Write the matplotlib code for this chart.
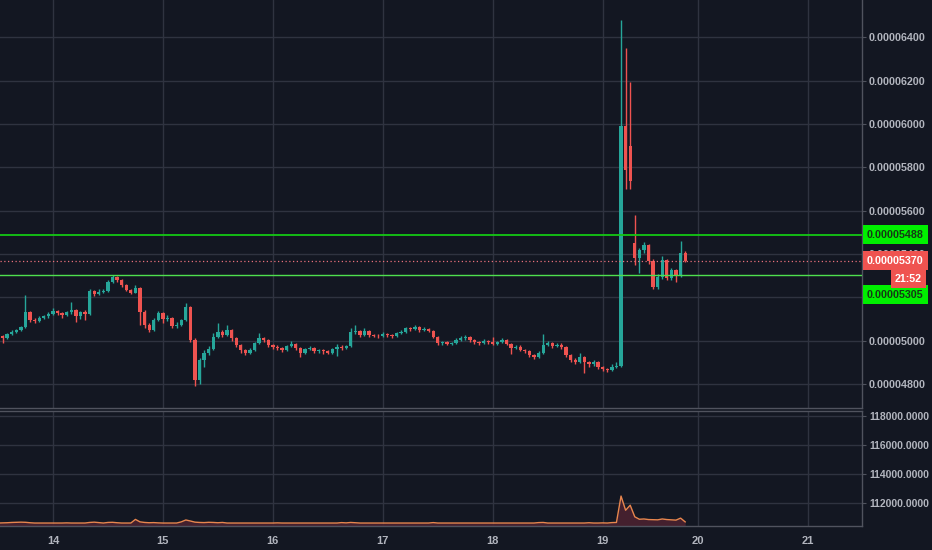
import matplotlib.pyplot as plt
from matplotlib.ticker import FuncFormatter

# hourly candles, prices in satoshi (1e-8)
closes = [5020, 5012, 5030, 5040, 5050, 5062, 5130, 5095, 5090, 5105,
          5112, 5125, 5135, 5128, 5120, 5130, 5140, 5115, 5130, 5122,
          5230, 5215, 5225, 5230, 5270, 5295, 5280, 5255, 5235, 5222,
          5245, 5132, 5070, 5049, 5095, 5127, 5100, 5105, 5067, 5072,
          5095, 5155, 5003, 4818, 4910, 4943, 4960, 5017, 5040, 5026,
          5049, 5010, 4980, 4956, 4943, 4956, 4989, 5012, 5003, 4980,
          4970, 4966, 4956, 4975, 4985, 4966, 4943, 4960, 4966, 4950,
          4956, 4950, 4945, 4960, 4970, 4966, 4975, 5040, 5045, 5026,
          5045, 5026, 5022, 5020, 5030, 5025, 5020, 5035, 5040, 5058,
          5054, 5063, 5049, 5054, 5045, 5017, 4989, 4993, 4985, 4989,
          5003, 5012, 5017, 5003, 4993, 4989, 5000, 4993, 4985, 4993,
          5003, 4985, 4966, 4972, 4957, 4950, 4933, 4925, 4945, 4980,
          4989, 4975, 4980, 4970, 4933, 4910, 4900, 4925, 4900, 4890,
          4900, 4878, 4868, 4865, 4880, 4885, 5990, 5790, 5735, 5380,
          5420, 5440, 5370, 5248, 5294, 5372, 5289, 5326, 5300, 5405,
          5370]
highs = [5030, 5025, 5035, 5048, 5055, 5068, 5210, 5135, 5105, 5112,
         5120, 5130, 5150, 5140, 5132, 5138, 5178, 5145, 5135, 5140,
         5240, 5235, 5240, 5238, 5278, 5305, 5300, 5285, 5260, 5240,
         5255, 5250, 5140, 5080, 5105, 5135, 5130, 5120, 5110, 5085,
         5100, 5174, 5160, 5010, 4920, 4955, 4975, 5035, 5081, 5050,
         5070, 5055, 5015, 4985, 4960, 4965, 4995, 5035, 5018, 5008,
         4985, 4978, 4972, 4982, 5000, 4990, 4970, 4965, 4975, 4970,
         4962, 4960, 4955, 4968, 4985, 4978, 4982, 5060, 5072, 5050,
         5060, 5050, 5032, 5030, 5038, 5035, 5030, 5042, 5048, 5065,
         5065, 5070, 5068, 5062, 5060, 5050, 5020, 5000, 4998, 4996,
         5010, 5020, 5028, 5022, 5008, 5000, 5006, 5005, 5015, 5000,
         5010, 5008, 4990, 4980, 4978, 4962, 4955, 4940, 4952, 5030,
         4998, 4995, 4990, 4988, 4975, 4940, 4918, 4945, 4930, 4908,
         4910, 4905, 4885, 4875, 4890, 4900, 6480, 6350, 6195, 5580,
         5430, 5455, 5445, 5378, 5310, 5390, 5378, 5335, 5332, 5460,
         5415]
lows = [5010, 4990, 5008, 5025, 5035, 5045, 5058, 5085, 5080, 5085,
        5100, 5105, 5120, 5118, 5105, 5115, 5125, 5085, 5100, 5095,
        5118, 5205, 5210, 5218, 5225, 5265, 5272, 5248, 5228, 5215,
        5218, 5072, 5060, 5040, 5045, 5090, 5080, 5090, 5060, 5060,
        5068, 5090, 4995, 4790, 4800, 4880, 4935, 4955, 5010, 5015,
        5020, 5000, 4970, 4945, 4935, 4938, 4950, 4985, 4995, 4972,
        4962, 4958, 4948, 4950, 4970, 4958, 4925, 4938, 4955, 4945,
        4945, 4940, 4938, 4940, 4930, 4958, 4960, 4970, 5032, 5018,
        5020, 5018, 5015, 5012, 5015, 5018, 5012, 5015, 5030, 5035,
        5045, 5048, 5042, 5044, 5038, 5010, 4980, 4982, 4978, 4980,
        4985, 4998, 5005, 4995, 4985, 4980, 4984, 4985, 4978, 4980,
        4988, 4978, 4940, 4960, 4950, 4942, 4925, 4915, 4920, 4940,
        4975, 4968, 4970, 4962, 4925, 4900, 4890, 4895, 4850, 4880,
        4882, 4870, 4858, 4855, 4860, 4872, 4880, 5700, 5700, 5350,
        5312, 5405, 5355, 5238, 5240, 5285, 5280, 5282, 5272, 5295,
        5362]
# bars that opened away from the previous close
gap_opens = {138: 5900, 139: 5450}

# lower pane indicator
volume = [110620, 110630, 110640, 110660, 110670, 110680, 110670, 110640, 110620, 110620,
          110620, 110620, 110620, 110620, 110620, 110630, 110620, 110620, 110620, 110620,
          110660, 110680, 110650, 110620, 110660, 110670, 110640, 110620, 110620, 110620,
          110870, 110700, 110660, 110640, 110650, 110630, 110620, 110620, 110620, 110620,
          110700, 110830, 110760, 110680, 110660, 110650, 110670, 110660, 110640, 110660,
          110620, 110620, 110620, 110620, 110620, 110620, 110620, 110620, 110620, 110620,
          110620, 110630, 110620, 110620, 110620, 110620, 110620, 110620, 110620, 110620,
          110620, 110620, 110620, 110620, 110620, 110650, 110630, 110660, 110640, 110620,
          110620, 110620, 110620, 110620, 110620, 110620, 110620, 110620, 110620, 110620,
          110620, 110620, 110620, 110620, 110620, 110650, 110620, 110620, 110620, 110620,
          110620, 110620, 110620, 110620, 110620, 110620, 110620, 110620, 110620, 110620,
          110620, 110620, 110620, 110620, 110620, 110620, 110620, 110620, 110650, 110660,
          110620, 110620, 110620, 110620, 110620, 110620, 110620, 110620, 110620, 110640,
          110620, 110620, 110630, 110620, 110650, 110660, 112480, 111500, 111850, 111050,
          110880, 110900, 110860, 110850, 110840, 110900, 110860, 110840, 110820, 110960,
          110700]

day_ticks = [12, 36, 60, 84, 108, 132, 152.8, 176.8]
day_labels = ['14', '15', '16', '17', '18', '19', '20', '21']
price_ticks = [4800, 5000, 5200, 5400, 5600, 5800, 6000, 6200, 6400]
hidden_ticks = [5200]   # covered by the 5305 marker on the scale
vol_ticks = [112000, 114000, 116000, 118000]
level_hi = 5488
level_lo = 5305
countdown = '21:52'

BG = '#131722'
GRID = '#2f3340'
EDGE = '#50535e'
TXT = '#b2b5be'
UP = '#26a69a'
DOWN = '#ef5350'
FONT = 'Liberation Sans'

sat = 1e-8
n = len(closes)
xs = list(range(n))
opens = [closes[0]] + closes[:-1]
for i, o in gap_opens.items():
    opens[i] = o

fig = plt.figure(figsize=(9.32, 5.5), dpi=100, facecolor=BG)
ax = fig.add_axes([0, 0.2582, 0.9249, 0.7418], facecolor=BG)
ax2 = fig.add_axes([0, 0.0436, 0.9249, 0.2091], facecolor=BG, sharex=ax)

# candles
cols = [UP if c >= o else DOWN for o, c in zip(opens, closes)]
ax.vlines(xs, [l * sat for l in lows], [h * sat for h in highs], colors=cols, lw=1.0, zorder=3)
bottoms = [min(o, c) * sat for o, c in zip(opens, closes)]
heights = [max(abs(c - o), 2) * sat for o, c in zip(opens, closes)]
ax.bar(xs, heights, bottom=bottoms, width=0.72, color=cols, linewidth=0, zorder=4)

# horizontal levels
ax.axhline(level_hi * sat, color='#14c814', lw=1.3, zorder=5)
ax.axhline(level_lo * sat, color='#4ee04e', lw=1.0, zorder=5)
last = closes[-1]
ax.axhline(last * sat, color='#e8707a', lw=0.9, ls=(0, (1, 2)), zorder=5)

ax.set_xlim(0.44, 188.6)
ax.set_ylim(4689 * sat, 6573 * sat)
ax.set_yticks([p * sat for p in price_ticks])
ax.yaxis.set_major_formatter(
    FuncFormatter(lambda v, pos: '' if round(v / sat) in hidden_ticks else f'{v:.8f}'))
ax.yaxis.tick_right()
ax.set_xticks(day_ticks)
ax.tick_params(axis='x', length=0, labelbottom=False)
ax.tick_params(axis='y', colors=EDGE, labelcolor=TXT, labelsize=7.7, length=3, pad=2)
for t in ax.get_yticklabels():
    t.set_fontfamily(FONT)
    t.set_fontweight('bold')
ax.grid(True, color=GRID, lw=1)
ax.set_axisbelow(True)
for s in ['top', 'left']:
    ax.spines[s].set_visible(False)
for s in ['right', 'bottom']:
    ax.spines[s].set_color(EDGE)
    ax.spines[s].set_linewidth(1)

# price labels on the scale
def scale_label(price, text, fc, tc, dy=0, dx=5, ha='left'):
    ax.annotate(text, xy=(1, price * sat), xycoords=('axes fraction', 'data'),
                xytext=(dx, dy), textcoords='offset pixels', ha=ha, va='center',
                fontsize=7.7, fontweight='bold', family=FONT, color=tc, zorder=10,
                annotation_clip=False,
                bbox=dict(boxstyle='square,pad=0.42', fc=fc, ec='none'))

scale_label(level_hi, f'{level_hi * sat:.8f}', '#00f000', '#163816')
scale_label(level_lo, f'{level_lo * sat:.8f}', '#00f000', '#163816', dy=-20)
scale_label(last, f'{last * sat:.8f}', DOWN, 'white')
scale_label(last, countdown, DOWN, 'white', dy=-18, dx=60, ha='right')

# lower pane
ax2.fill_between(xs, volume, 110414, color='#4a2230', alpha=0.9, lw=0, zorder=2)
ax2.plot(xs, volume, color='#e8864e', lw=1.0, zorder=3)
ax2.set_ylim(110414, 118345)
ax2.set_yticks(vol_ticks)
ax2.yaxis.set_major_formatter(FuncFormatter(lambda v, pos: f'{v:.4f}'))
ax2.yaxis.tick_right()
ax2.set_xticks(day_ticks)
ax2.set_xticklabels(day_labels)
ax2.tick_params(axis='x', length=0, pad=7, labelcolor=TXT, labelsize=8)
ax2.tick_params(axis='y', colors=EDGE, labelcolor=TXT, labelsize=7.5, length=3, pad=2)
for t in ax2.get_yticklabels() + ax2.get_xticklabels():
    t.set_fontfamily(FONT)
    t.set_fontweight('bold')
ax2.grid(True, color=GRID, lw=1)
ax2.set_axisbelow(True)
ax2.spines['left'].set_visible(False)
for s in ['right', 'bottom', 'top']:
    ax2.spines[s].set_color(EDGE)
    ax2.spines[s].set_linewidth(1)

fig.savefig('out.png', dpi=100, facecolor=BG)
